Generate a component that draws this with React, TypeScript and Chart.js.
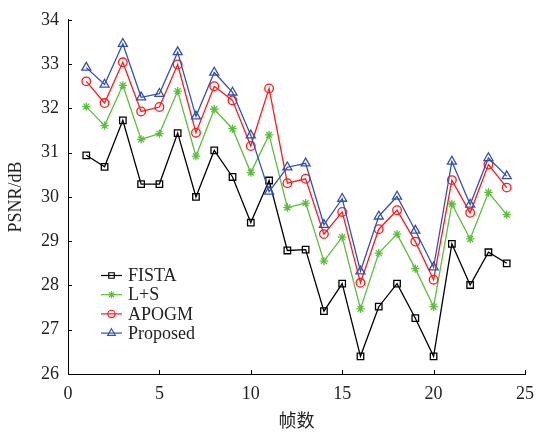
import React, { useEffect, useRef } from "react";
import { Chart, registerables } from "chart.js";

Chart.register(...registerables);

// Frame index (x) and PSNR in dB for each reconstruction method
const frames = [1, 2, 3, 4, 5, 6, 7, 8, 9, 10, 11, 12, 13, 14, 15, 16, 17, 18, 19, 20, 21, 22, 23, 24];

const fista = [30.94, 30.68, 31.73, 30.29, 30.29, 31.44, 30.0, 31.05, 30.45, 29.42, 30.37, 28.79, 28.81, 27.42, 28.04, 26.4, 27.52, 28.04, 27.26, 26.4, 28.94, 28.01, 28.75, 28.5];
const lps = [32.04, 31.61, 32.52, 31.3, 31.43, 32.39, 30.92, 31.98, 31.54, 30.55, 31.4, 29.76, 29.86, 28.55, 29.09, 27.47, 28.73, 29.16, 28.38, 27.52, 29.84, 29.05, 30.1, 29.6];
const apogm = [32.61, 32.12, 33.04, 31.93, 32.03, 32.99, 31.45, 32.5, 32.18, 31.15, 32.45, 30.31, 30.41, 29.16, 29.66, 28.06, 29.27, 29.7, 28.99, 28.13, 30.38, 29.64, 30.73, 30.21];
const proposed = [32.92, 32.54, 33.46, 32.25, 32.33, 33.27, 31.82, 32.81, 32.36, 31.39, 30.12, 30.67, 30.76, 29.37, 29.96, 28.32, 29.56, 30.01, 29.24, 28.41, 30.8, 29.83, 30.88, 30.47];

const seriesNames = ["FISTA", "L+S", "APOGM", "Proposed"];
const seriesValues = [fista, lps, apogm, proposed];
const seriesColors = ["#000000", "#5cbf3c", "#ff1a1a", "#3152b0"];
const seriesMarkers = ["rect", "star", "circle", "triangle"];
const seriesRadii = [4.6, 4.2, 4.3, 5.2];

const xTicks = [0, 5, 10, 15, 20, 25];
const yTicks = [26, 27, 28, 29, 30, 31, 32, 33, 34];

const FONT = "'Liberation Serif', 'Times New Roman', 'Noto Sans CJK SC', serif";

function drawMarker(ctx: CanvasRenderingContext2D, style: string, x: number, y: number, r: number) {
  ctx.beginPath();
  if (style === "rect") {
    const s = Math.SQRT1_2 * r;
    ctx.rect(x - s, y - s, 2 * s, 2 * s);
  } else if (style === "circle") {
    ctx.arc(x, y, r, 0, Math.PI * 2);
  } else if (style === "triangle") {
    for (let i = 0; i < 3; i++) {
      const a = -Math.PI / 2 + (i * 2 * Math.PI) / 3;
      const px = x + Math.cos(a) * r;
      const py = y + Math.sin(a) * r;
      if (i === 0) ctx.moveTo(px, py);
      else ctx.lineTo(px, py);
    }
    ctx.closePath();
  } else if (style === "star") {
    for (let i = 0; i < 4; i++) {
      const a = (i * Math.PI) / 4;
      ctx.moveTo(x + Math.cos(a) * r, y + Math.sin(a) * r);
      ctx.lineTo(x - Math.cos(a) * r, y - Math.sin(a) * r);
    }
  }
  ctx.stroke();
}

// Inward tick marks on the left and bottom axes
const tickMarks = {
  id: "tickMarks",
  afterDraw(chart: any) {
    const { ctx, chartArea } = chart;
    const xs = chart.scales.x;
    const ys = chart.scales.y;
    ctx.save();
    ctx.strokeStyle = "#000";
    ctx.lineWidth = 1;
    ctx.beginPath();
    yTicks.forEach((v) => {
      const py = Math.round(ys.getPixelForValue(v)) + 0.5;
      ctx.moveTo(chartArea.left, py);
      ctx.lineTo(chartArea.left + 4, py);
    });
    xTicks.forEach((v) => {
      const px = Math.round(xs.getPixelForValue(v)) + 0.5;
      ctx.moveTo(px, chartArea.bottom);
      ctx.lineTo(px, chartArea.bottom - 4);
    });
    ctx.stroke();
    ctx.restore();
  },
};

// Legend inside the plot: short line with the series marker, then its name
const innerLegend = {
  id: "innerLegend",
  afterDraw(chart: any) {
    const { ctx } = chart;
    ctx.save();
    ctx.font = `18px ${FONT}`;
    ctx.textBaseline = "middle";
    ctx.textAlign = "left";
    seriesNames.forEach((name, i) => {
      const y = 275.5 + i * 19.2;
      ctx.strokeStyle = seriesColors[i];
      ctx.lineWidth = 1.2;
      ctx.beginPath();
      ctx.moveTo(101, y);
      ctx.lineTo(122, y);
      ctx.stroke();
      drawMarker(ctx, seriesMarkers[i], 111.5, y, seriesRadii[i] * 0.85);
      ctx.fillStyle = "#222";
      ctx.fillText(name, 128, y + 1);
    });
    ctx.restore();
  },
};

export default function App() {
  const canvasRef = useRef<HTMLCanvasElement | null>(null);

  useEffect(() => {
    document.body.style.margin = "0";
    const canvas = canvasRef.current;
    if (!canvas) return;
    const chart = new Chart(canvas, {
      type: "line",
      data: {
        datasets: seriesNames.map((name, i) => ({
          label: name,
          data: frames.map((f, j) => ({ x: f, y: seriesValues[i][j] })),
          borderColor: seriesColors[i],
          backgroundColor: "transparent",
          borderWidth: 1.3,
          pointStyle: seriesMarkers[i] as any,
          pointRadius: seriesRadii[i],
          pointBorderWidth: 1.3,
          pointBorderColor: seriesColors[i],
          pointBackgroundColor: "transparent",
          fill: false,
          tension: 0,
          order: 3 - i,
        })),
      },
      options: {
        animation: false,
        responsive: false,
        events: [],
        layout: { padding: { left: 0, top: 15, right: 11, bottom: 0 } },
        plugins: {
          legend: { display: false },
          tooltip: { enabled: false },
        },
        scales: {
          x: {
            type: "linear",
            min: 0,
            max: 25,
            afterBuildTicks: (s: any) => {
              s.ticks = xTicks.map((v) => ({ value: v }));
            },
            afterFit: (s: any) => {
              s.height = 60;
              s.paddingLeft = 0;
              s.paddingRight = 0;
            },
            grid: { display: false, drawTicks: false, tickLength: 0 },
            border: { display: true, color: "#000", width: 1 },
            ticks: {
              color: "#222",
              font: { family: FONT, size: 18 },
              padding: 9,
              maxRotation: 0,
            },
            title: {
              display: true,
              text: "帧数",
              color: "#222",
              font: { family: FONT, size: 18 },
              padding: { top: 2, bottom: 1 },
            },
          },
          y: {
            type: "linear",
            min: 26,
            max: 34,
            afterBuildTicks: (s: any) => {
              s.ticks = yTicks.map((v) => ({ value: v }));
            },
            afterFit: (s: any) => {
              s.width = 68;
            },
            grid: { display: false, drawTicks: false, tickLength: 0 },
            border: { display: true, color: "#000", width: 1 },
            ticks: {
              color: "#222",
              font: { family: FONT, size: 18 },
              padding: 9,
            },
            title: {
              display: true,
              text: "PSNR/dB",
              color: "#222",
              font: { family: FONT, size: 18 },
              padding: { top: 5, bottom: 0 },
            },
          },
        },
      },
      plugins: [tickMarks, innerLegend],
    });
    return () => chart.destroy();
  }, []);

  return (
    <div style={{ width: 536, height: 434, background: "#fff" }}>
      <canvas ref={canvasRef} width={536} height={434} style={{ display: "block" }} />
    </div>
  );
}
